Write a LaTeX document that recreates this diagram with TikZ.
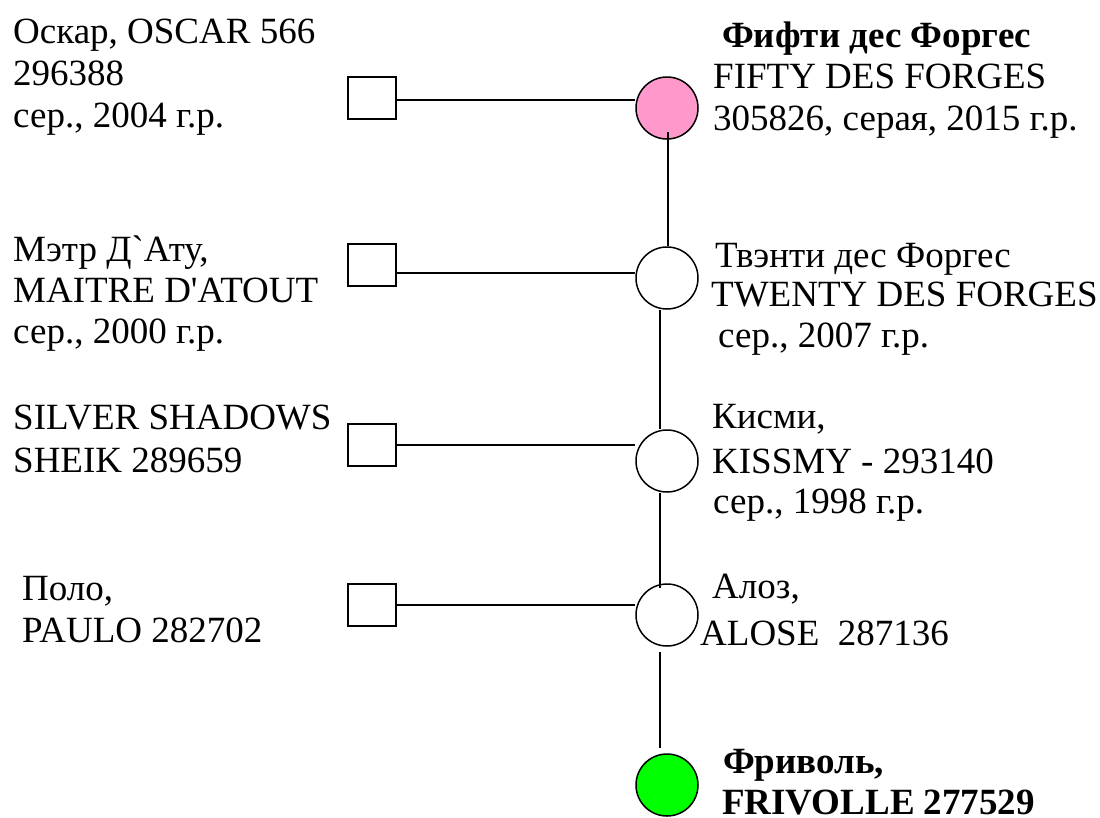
\documentclass[tikz,border=0pt]{standalone}
\usepackage{fontspec}
\setmainfont{Liberation Serif}[Ligatures=TeXOff]
\definecolor{pinkfill}{HTML}{FF99CC}
\definecolor{greenfill}{HTML}{00FF00}
\begin{document}
\begin{tikzpicture}[x=1pt,y=-1pt,
  sq/.style={draw,line width=1.5pt,minimum width=48pt,minimum height=42pt,inner sep=0pt},
  circ/.style={draw,circle,line width=1.5pt,minimum size=62pt,inner sep=0pt,fill=white},
  link/.style={line width=1.5pt},
  lbl/.style={anchor=base west,inner sep=0pt,font=\fontsize{37}{42}\selectfont},
  blbl/.style={lbl,font=\fontsize{37}{42}\selectfont\bfseries}]
\useasboundingbox (0,0) rectangle (1100,817);
% squares
\node[sq] (s1) at (372,98) {};
\node[sq] (s2) at (372,265) {};
\node[sq] (s3) at (372,445) {};
\node[sq] (s4) at (372,605) {};
% circles
\node[circ,fill=pinkfill] (c1) at (667,108) {};
\node[circ] (c2) at (667,278) {};
\node[circ] (c3) at (667,461) {};
\node[circ] (c4) at (667,615) {};
\node[circ,fill=greenfill] (g) at (667,785) {};
% horizontal connectors
\draw[link] ([yshift=-2pt]s1.east) -- ([yshift=-2pt]s1.east -| c1.west);
\draw[link] ([yshift=-8pt]s2.east) -- ([yshift=-8pt]s2.east -| c2.west);
\draw[link] (s3.east) -- (s3.east -| c3.west);
\draw[link] (s4.east) -- (s4.east -| c4.west);
% vertical connectors
\draw[link] ([xshift=1pt,yshift=-24pt]c1.center) -- ([xshift=1pt]c2.north);
\draw[link] ([xshift=-7pt]c2.south) -- ([xshift=-7pt]c3.north);
\draw[link] ([xshift=-7pt]c3.south) -- ([xshift=-7pt,yshift=-5pt]c4.north);
\draw[link] ([xshift=-7pt,yshift=-5pt]c4.south) -- ([xshift=-7pt,yshift=5pt]g.north);
% left labels
\node[lbl] (l1a) at (13,43) {Оскар, OSCAR 566};
\node[lbl] (l1b) at (13,85) {296388};
\node[lbl] (l1c) at (13,127) {сер., 2004 г.р.};
\node[lbl] (l2a) at (13,261) {Мэтр Д`Ату,};
\node[lbl] (l2b) at (13,302) {MAITRE D'ATOUT};
\node[lbl] (l2c) at (13,343) {сер., 2000 г.р.};
\node[lbl] (l3a) at (13,429) {SILVER SHADOWS};
\node[lbl] (l3b) at (13,472) {SHEIK 289659};
\node[lbl] (l4a) at (22,600) {Поло,};
\node[lbl] (l4b) at (22,642) {PAULO 282702};
% right labels
\node[blbl] (r1a) at (722,47) {Фифти дес Форгес};
\node[lbl] (r1b) at (713,88) {FIFTY DES FORGES};
\node[lbl] (r1c) at (713,130) {305826, серая, 2015 г.р.};
\node[lbl] (r2a) at (715,267) {Твэнти дес Форгес};
\node[lbl] (r2b) at (711,306) {TWENTY DES FORGES};
\node[lbl] (r2c) at (718,347) {сер., 2007 г.р.};
\node[lbl] (r3a) at (712,428) {Кисми,};
\node[lbl] (r3b) at (712,473) {KISSMY - 293140};
\node[lbl] (r3c) at (713,513) {сер., 1998 г.р.};
\node[lbl] (r4a) at (712,598) {Алоз,};
\node[lbl] (r4b) at (700,645) {ALOSE\ \ 287136};
\node[blbl] (r5a) at (723,773) {Фриволь,};
\node[blbl] (r5b) at (722,814) {FRIVOLLE 277529};
\end{tikzpicture}
\end{document}
